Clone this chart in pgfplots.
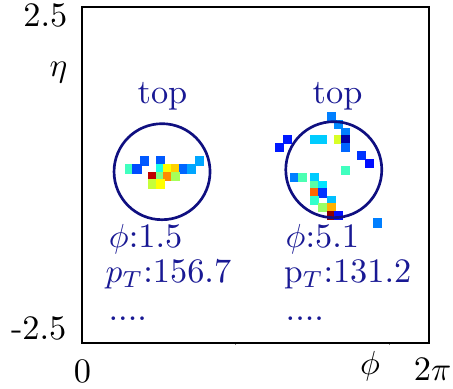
\documentclass[border=0pt]{standalone}
\usepackage{pgfplots}
\pgfplotsset{compat=1.18}
\usepackage{pgfplotstable}

\definecolor{ringblue}{rgb}{0.06,0.06,0.50}
\definecolor{txtblue}{rgb}{0.10,0.10,0.58}

% calorimeter cells: phi, eta, energy (colour index on the jet scale 0..8)
\pgfplotstableread{
phi   eta    e
1.280  0.208 1.7
1.602  0.208 1.7
2.398  0.208 2.3
0.969  0.089 3.5
1.122  0.089 1.6
1.602  0.089 3.2
1.755  0.089 5.0
1.912  0.089 5.35
2.067  0.089 1.8
2.233  0.089 2.3
1.443 -0.022 7.5
1.602 -0.022 4.0
1.755 -0.022 5.9
1.912 -0.022 4.3
1.443 -0.134 4.55
1.602 -0.134 5.0
}\leftjet

\pgfplotstableread{
phi   eta    e
5.086  0.863 2.0
5.231  0.751 2.1
5.378  0.637 2.0
4.184  0.525 1.2
4.749  0.525 2.6
4.912  0.525 2.6
5.231  0.525 4.7
5.378  0.525 0.3
4.024  0.409 1.2
5.378  0.409 1.8
5.698  0.290 1.4
5.861  0.174 1.1
5.378  0.064 3.5
4.343 -0.042 2.0
4.506 -0.042 3.6
4.745 -0.042 2.6
4.745 -0.156 3.7
4.908 -0.156 2.8
4.745 -0.268 6.2
4.908 -0.268 1.4
4.745 -0.376 3.4
5.082 -0.376 2.5
4.908 -0.488 4.2
5.082 -0.488 5.6
5.082 -0.603 7.9
5.231 -0.603 1.1
6.020 -0.714 2.0
}\rightjet

\begin{document}
\begin{tikzpicture}[font=\fontsize{10.3}{12}\selectfont]
\begin{axis}[
  at={(0,0)}, anchor=south west,
  scale only axis,
  width=104.1pt, height=100.8pt,
  xmin=0, xmax=7.08, ymin=-2.5, ymax=2.5,
  axis line style={line width=0.35pt},
  xtick={3.1416,6.2832}, ytick=\empty,
  xticklabels={}, tick align=outside,
  xtick pos=bottom, major tick length=0.6pt,
  tick style={line width=0.3pt},
  colormap/jet, point meta min=0, point meta max=8,
  clip=false,
]
\addplot[scatter, only marks, mark=square*, mark size=1.16pt,
  scatter/use mapped color={draw=mapped color, fill=mapped color},
  point meta=explicit] table[x=phi, y=eta, meta=e] {\leftjet};
\addplot[scatter, only marks, mark=square*, mark size=1.16pt,
  scatter/use mapped color={draw=mapped color, fill=mapped color},
  point meta=explicit] table[x=phi, y=eta, meta=e] {\rightjet};

% jet cones
\addplot[only marks, mark=o, mark size=14.4pt,
  mark options={draw=ringblue, line width=0.8pt}]
  coordinates {(1.633,0.049) (5.137,0.079)};

% jet labels
\node[txtblue, anchor=base, inner sep=0pt] at (axis cs:1.643,1.057) {top};
\node[txtblue, anchor=base, inner sep=0pt] at (axis cs:5.214,1.071) {top};

\node[txtblue, anchor=base west, inner sep=0pt] at (axis cs:0.537,-1.086) {$\phi$:1.5};
\node[txtblue, anchor=base west, inner sep=0pt] at (axis cs:0.469,-1.607) {$p_T$:156.7};
\node[txtblue, anchor=base west, inner sep=0pt] at (axis cs:0.531,-2.158) {....};

\node[txtblue, anchor=base west, inner sep=0pt] at (axis cs:4.143,-1.086) {$\phi$:5.1};
\node[txtblue, anchor=base west, inner sep=0pt] at (axis cs:4.108,-1.607) {$\mathrm{p}_T$:131.2};
\node[txtblue, anchor=base west, inner sep=0pt] at (axis cs:4.143,-2.158) {....};

% axis annotations
\node[anchor=base east, inner sep=0pt] at (axis cs:-0.286,2.207) {2.5};
\node[anchor=base east, inner sep=0pt] at (axis cs:-0.286,1.473) {$\eta$};
\node[anchor=base east, inner sep=0pt] at (axis cs:-0.306,-2.455) {-2.5};
\node[anchor=base, inner sep=0pt] at (axis cs:0.01,-3.095) {0};
\node[anchor=base, inner sep=0pt] at (axis cs:5.878,-2.976) {$\phi$};
\node[anchor=base, inner sep=0pt] at (axis cs:7.153,-3.051) {2$\pi$};
\end{axis}
\path (-24.6pt,-13.8pt) rectangle (111.3pt,102.9pt);
\end{tikzpicture}
\end{document}
